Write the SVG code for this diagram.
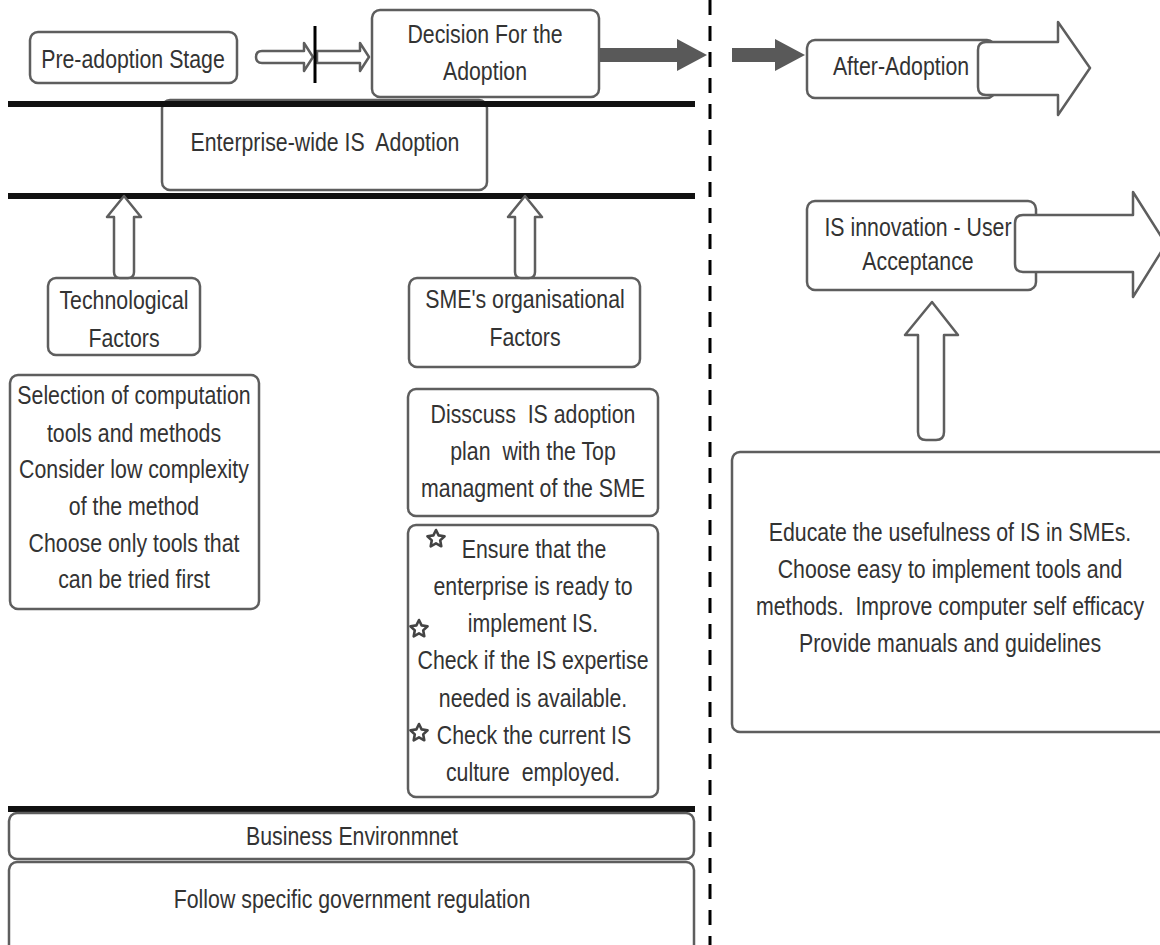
<svg xmlns="http://www.w3.org/2000/svg" xmlns:xlink="http://www.w3.org/1999/xlink" width="1160" height="945" viewBox="0 0 1160 945">
<style>
.box{fill:#fff;stroke:#5e5e5e;stroke-width:2.5}
.t{font-family:"Liberation Sans",Arial,sans-serif;font-size:26px;fill:#333;text-anchor:middle;dominant-baseline:central;white-space:pre}
.hollow{fill:#fff;stroke:#5e5e5e;stroke-width:2.5;stroke-linejoin:round}
.solid{fill:#595959;stroke:none}
.bar{stroke:#111;stroke-width:6}
.star{fill:#fff;stroke:#444;stroke-width:2.6;stroke-linejoin:round}
</style>
<defs>
<path id="star" class="star" d="M0,-9 L2.6,-3.6 L8.56,-2.78 L4.2,1.36 L5.29,7.28 L0,4.4 L-5.29,7.28 L-4.2,1.36 L-8.56,-2.78 L-2.6,-3.6 Z"/>
</defs>
<rect width="1160" height="945" fill="#fff"/>

<g id="dividers">
<line x1="710" y1="0" x2="710" y2="945" stroke="#000" stroke-width="3" stroke-dasharray="15 11"/>
</g>

<g id="enterprise">
<rect class="box" x="162" y="100" width="325" height="90" rx="8"/>
<text class="t" transform="matrix(.82 0 0 1 325 0)" y="142">Enterprise-wide IS  Adoption</text>
</g>

<g id="bars">
<line class="bar" x1="8" y1="104" x2="695" y2="104"/>
<line class="bar" x1="8" y1="196" x2="695" y2="196"/>
<line class="bar" x1="8" y1="809" x2="695" y2="809"/>
</g>

<g id="preadoption">
<rect class="box" x="30" y="32" width="207" height="51" rx="8"/>
<text class="t" transform="matrix(.82 0 0 1 133 0)" y="59">Pre-adoption Stage</text>
</g>

<g id="decision">
<rect class="box" x="372" y="10" width="227" height="87" rx="8"/>
<text class="t" transform="matrix(.82 0 0 1 485 0)" y="34">Decision For the</text>
<text class="t" transform="matrix(.82 0 0 1 485 0)" y="71">Adoption</text>
</g>

<g id="after-adoption">
<rect class="box" x="807" y="40" width="188" height="58" rx="8"/>
<text class="t" transform="matrix(.82 0 0 1 901 0)" y="66">After-Adoption</text>
</g>

<g id="user-acceptance">
<rect class="box" x="807" y="201" width="229" height="89" rx="8"/>
<text class="t" transform="matrix(.82 0 0 1 918 0)" y="227">IS innovation - User</text>
<text class="t" transform="matrix(.82 0 0 1 918 0)" y="261">Acceptance</text>
</g>

<g id="educate">
<rect class="box" x="732" y="452" width="440" height="280" rx="8"/>
<text class="t" transform="matrix(.82 0 0 1 950 0)" y="532">Educate the usefulness of IS in SMEs.</text>
<text class="t" transform="matrix(.82 0 0 1 950 0)" y="569">Choose easy to implement tools and</text>
<text class="t" transform="matrix(.82 0 0 1 950 0)" y="606">methods.  Improve computer self efficacy</text>
<text class="t" transform="matrix(.82 0 0 1 950 0)" y="643">Provide manuals and guidelines</text>
</g>

<g id="technological">
<rect class="box" x="48" y="278" width="152" height="77" rx="8"/>
<text class="t" transform="matrix(.82 0 0 1 124 0)" y="300">Technological</text>
<text class="t" transform="matrix(.82 0 0 1 124 0)" y="338">Factors</text>
</g>

<g id="organisational">
<rect class="box" x="409" y="278" width="231" height="89" rx="8"/>
<text class="t" transform="matrix(.82 0 0 1 525 0)" y="299">SME's organisational</text>
<text class="t" transform="matrix(.82 0 0 1 525 0)" y="337">Factors</text>
</g>

<g id="selection">
<rect class="box" x="10" y="375" width="249" height="234" rx="8"/>
<text class="t" transform="matrix(.82 0 0 1 134 0)" y="395">Selection of computation</text>
<text class="t" transform="matrix(.82 0 0 1 134 0)" y="433">tools and methods</text>
<text class="t" transform="matrix(.82 0 0 1 134 0)" y="469">Consider low complexity</text>
<text class="t" transform="matrix(.82 0 0 1 134 0)" y="506">of the method</text>
<text class="t" transform="matrix(.82 0 0 1 134 0)" y="543">Choose only tools that</text>
<text class="t" transform="matrix(.82 0 0 1 134 0)" y="579">can be tried first</text>
</g>

<g id="discuss">
<rect class="box" x="408" y="389" width="250" height="127" rx="8"/>
<text class="t" transform="matrix(.82 0 0 1 533 0)" y="414">Disscuss  IS adoption</text>
<text class="t" transform="matrix(.82 0 0 1 533 0)" y="451">plan  with the Top</text>
<text class="t" transform="matrix(.82 0 0 1 533 0)" y="488">managment of the SME</text>
</g>

<g id="ensure">
<rect class="box" x="408" y="525" width="250" height="272" rx="8"/>
<text class="t" transform="matrix(.82 0 0 1 534 0)" y="549">Ensure that the</text>
<text class="t" transform="matrix(.82 0 0 1 533 0)" y="586">enterprise is ready to</text>
<text class="t" transform="matrix(.82 0 0 1 533 0)" y="623">implement IS.</text>
<text class="t" transform="matrix(.82 0 0 1 533 0)" y="660">Check if the IS expertise</text>
<text class="t" transform="matrix(.82 0 0 1 533 0)" y="698">needed is available.</text>
<text class="t" transform="matrix(.82 0 0 1 534 0)" y="735">Check the current IS</text>
<text class="t" transform="matrix(.82 0 0 1 533 0)" y="772">culture  employed.</text>
<use xlink:href="#star" x="436" y="539"/>
<use xlink:href="#star" x="419" y="629"/>
<use xlink:href="#star" x="419" y="733"/>
</g>

<g id="business">
<rect class="box" x="9" y="813" width="685" height="46" rx="8"/>
<text class="t" transform="matrix(.82 0 0 1 352 0)" y="836">Business Environmnet</text>
</g>

<g id="regulation">
<rect class="box" x="9" y="862" width="685" height="95" rx="8"/>
<text class="t" transform="matrix(.82 0 0 1 352 0)" y="899">Follow specific government regulation</text>
</g>

<g id="connectors">
<path class="hollow" d="M262,51 L304,51 L304,43 L313,57 L304,71 L304,63 L262,63 Q256,63 256,57 Q256,51 262,51 Z"/>
<path class="hollow" d="M317,51 L360,51 L360,43 L369,57 L360,71 L360,63 L317,63 Z"/>
<line x1="315" y1="26" x2="315" y2="83" stroke="#000" stroke-width="3"/>
<path class="solid" d="M600,48 L677,48 L677,39 L707,55 L677,71 L677,62 L600,62 Z"/>
<path class="solid" d="M732,48 L775,48 L775,39 L805,55 L775,71 L775,62 L732,62 Z"/>
<path class="hollow" d="M986,42 L1058,42 L1058,22 L1090,68 L1058,115 L1058,95 L986,95 Q978,95 978,87 L978,50 Q978,42 986,42 Z"/>
<path class="hollow" d="M1023,215 L1133,215 L1133,192 L1166,244 L1133,297 L1133,272 L1023,272 Q1015,272 1015,264 L1015,223 Q1015,215 1023,215 Z"/>
<path class="hollow" d="M932,302 L958,335 L944,335 L944,432 Q944,440 936,440 L926,440 Q918,440 918,432 L918,335 L905,335 Z"/>
<path class="hollow" d="M124,196 L141,217 L134,217 L134,272 Q134,278 128,278 L120,278 Q114,278 114,272 L114,217 L107,217 Z"/>
<path class="hollow" d="M525,196 L542,217 L535,217 L535,272 Q535,278 529,278 L521,278 Q515,278 515,272 L515,217 L508,217 Z"/>
</g>
</svg>
